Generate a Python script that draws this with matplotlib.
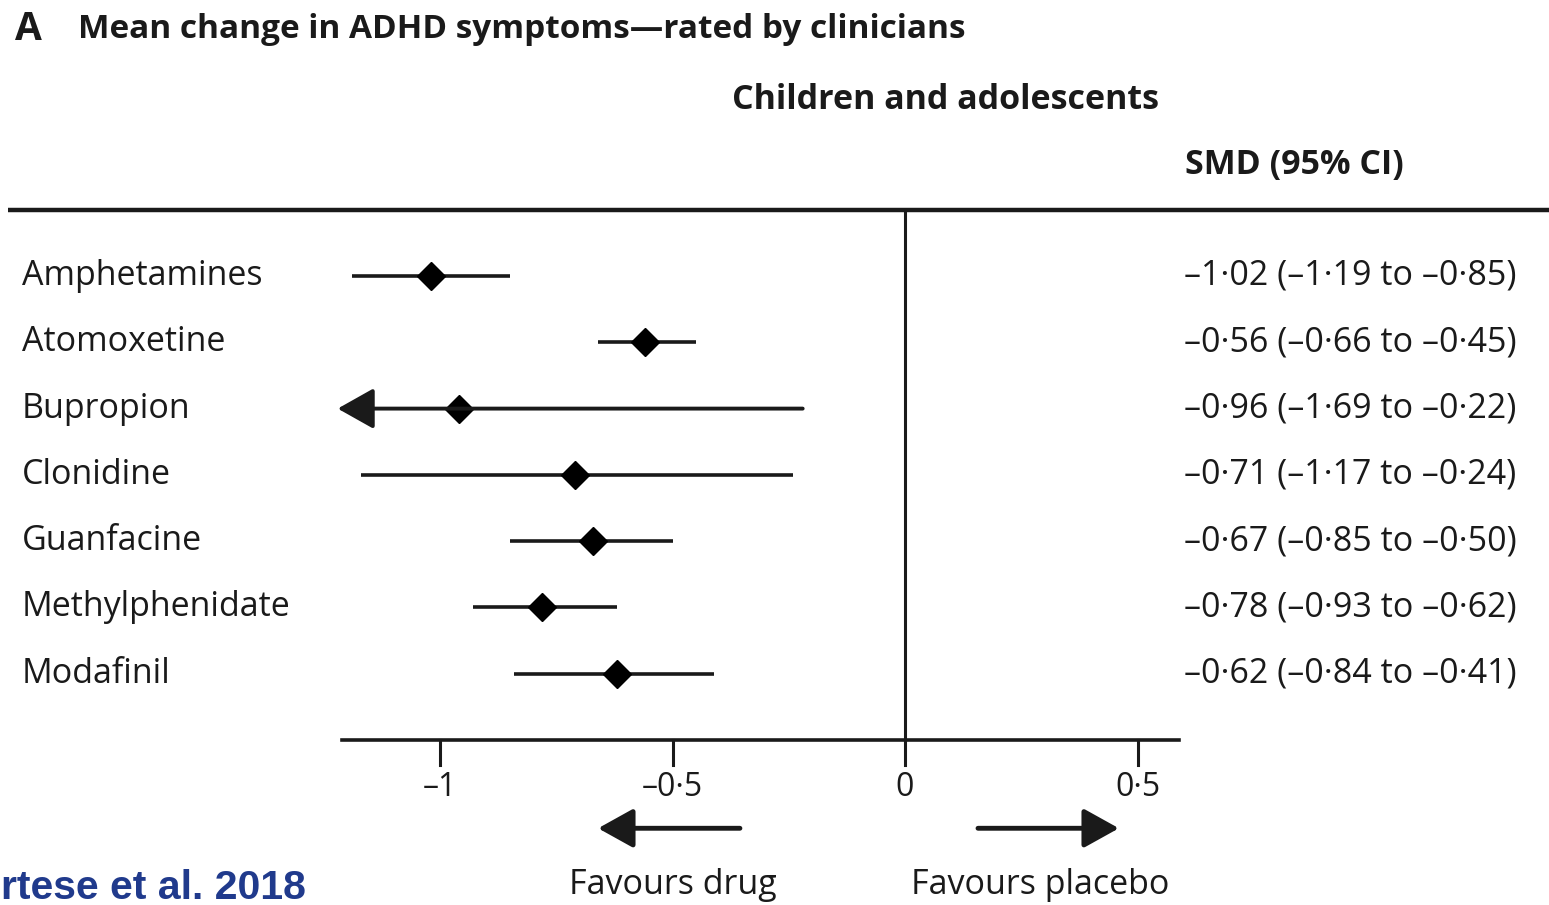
import matplotlib.pyplot as plt
from matplotlib import font_manager

# forest plot data, Cortese et al. 2018 (clinician-rated, children and adolescents)
drugs = ["Amphetamines", "Atomoxetine", "Bupropion", "Clonidine",
         "Guanfacine", "Methylphenidate", "Modafinil"]
smd = [-1.02, -0.56, -0.96, -0.71, -0.67, -0.78, -0.62]
ci_low = [-1.19, -0.66, -1.69, -1.17, -0.85, -0.93, -0.84]
ci_high = [-0.85, -0.45, -0.22, -0.24, -0.50, -0.62, -0.41]
xticks = [-1, -0.5, 0, 0.5]
xtick_labels = ["–1", "–0·5", "0", "0·5"]


def fmt(v):
    s = f"{abs(v):.2f}".replace(".", "·")
    return ("–" if v < 0 else "") + s


names = {f.name for f in font_manager.fontManager.ttflist}
fam = [f for f in ["Liberation Sans Narrow", "Open Sans", "DejaVu Sans"] if f in names]
plt.rcParams["font.family"] = fam

INK = "#1a1a1a"
AX_MIN, AX_MAX = -1.21, 0.59

fig = plt.figure(figsize=(15.49, 9.05), dpi=100)
ax = fig.add_axes([0, 0, 1, 1])
# x: 0 sits at pixel 905, 465 px per unit; y: row index, 66.3 px per row from pixel 276
ax.set_xlim(-905 / 465, (1549 - 905) / 465)
ax.set_ylim((905 - 276) / 66.3, -276 / 66.3)
ax.axis("off")

# header rule, zero line and x axis
ax.plot([-1.93, 1.385], [-1.0, -1.0], color=INK, lw=3.2, solid_capstyle="butt")
ax.plot([0, 0], [-1.0, 7.0], color=INK, lw=2.2)
ax.plot([AX_MIN, AX_MAX], [7.0, 7.0], color=INK, lw=2.6)
for t, lab in zip(xticks, xtick_labels):
    ax.plot([t, t], [7.0, 7.38], color=INK, lw=2.2)
    ax.text(t, 7.72, lab, ha="center", va="center", fontsize=23, color=INK)

for i, (name, m, lo, hi) in enumerate(zip(drugs, smd, ci_low, ci_high)):
    lo_draw = max(lo, AX_MIN)
    if lo < AX_MIN:
        ax.annotate("", xy=(lo_draw - 0.01, i), xytext=(hi, i),
                    arrowprops=dict(arrowstyle="-|>,head_length=0.8,head_width=0.45",
                                    mutation_scale=28, lw=2.8, color=INK,
                                    shrinkA=0, shrinkB=0))
    else:
        ax.plot([lo_draw, hi], [i, i], color=INK, lw=2.6, solid_capstyle="butt")
    ax.plot(m, i, marker="D", markersize=14.5, color="black")
    ax.text(-1.9, i, name, ha="left", va="center", fontsize=24.5, color=INK)
    ax.text(0.6, i, f"{fmt(m)} ({fmt(lo)} to {fmt(hi)})",
            ha="left", va="center", fontsize=24.5, color=INK)

# favours arrows
arrow_kw = dict(arrowstyle="-|>,head_length=0.9,head_width=0.5",
                mutation_scale=24, lw=3.5, color=INK, shrinkA=0, shrinkB=0)
ax.annotate("", xy=(-0.66, 8.33), xytext=(-0.355, 8.33), arrowprops=arrow_kw)
ax.annotate("", xy=(0.46, 8.33), xytext=(0.157, 8.33), arrowprops=arrow_kw)
ax.text(-0.5, 9.18, "Favours drug", ha="center", va="center", fontsize=24.5, color=INK)
ax.text(0.29, 9.18, "Favours placebo", ha="center", va="center", fontsize=24.5, color=INK)

# headings
fig.text(15 / 1549, 1 - 30 / 905, "A", fontsize=28, fontweight="bold",
         ha="left", va="center", color=INK)
fig.text(78 / 1549, 1 - 30 / 905, "Mean change in ADHD symptoms—rated by clinicians",
         fontsize=24, fontweight="bold", ha="left", va="center", color=INK)
fig.text(945 / 1549, 1 - 100 / 905, "Children and adolescents", fontsize=24.5,
         fontweight="bold", ha="center", va="center", color=INK)
fig.text(1185 / 1549, 1 - 165 / 905, "SMD (95% CI)", fontsize=24.5,
         fontweight="bold", ha="left", va="center", color=INK)

# source tag, as far as it shows in the slide crop
fig.text(1 / 1549, 1 - 888 / 905, "rtese et al. 2018", fontsize=29.5,
         fontweight="bold", ha="left", va="center", color="#203a8c",
         family=["Liberation Sans", "DejaVu Sans"])

fig.savefig("out.png", dpi=100)
